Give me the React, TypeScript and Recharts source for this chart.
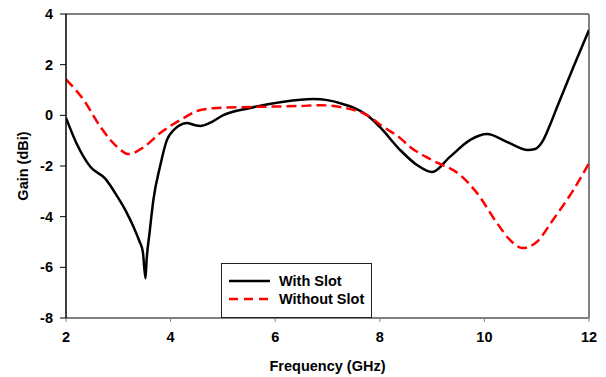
import React from "react"
import { LineChart, Line, XAxis, YAxis, ReferenceLine, Legend } from "recharts"

// With Slot
const withSlotFreq = [2, 2.2, 2.47, 2.75, 2.98, 3.15, 3.29, 3.4, 3.47, 3.52, 3.54, 3.6, 3.67, 3.8, 3.93, 4.05, 4.15, 4.31, 4.45, 4.57, 4.75, 5.0, 5.52, 6.16, 6.73, 7.0, 7.24, 7.5, 7.76, 8.0, 8.39, 8.71, 9.0, 9.34, 9.73, 10.05, 10.43, 10.83, 10.97, 11.12, 11.26, 11.39, 11.7, 12]
const withSlotGain = [-0.1, -1.1, -2.04, -2.5, -3.2, -3.8, -4.4, -4.95, -5.4, -6.43, -5.75, -4.6, -3.35, -2.0, -0.97, -0.6, -0.42, -0.3, -0.38, -0.42, -0.3, 0.0, 0.29, 0.54, 0.64, 0.6, 0.48, 0.3, 0.0, -0.46, -1.37, -1.96, -2.24, -1.64, -0.97, -0.74, -1.05, -1.37, -1.33, -1.0, -0.35, 0.33, 1.9, 3.37]

// Without Slot
const withoutSlotFreq = [2, 2.34, 2.66, 2.98, 3.2, 3.49, 3.8, 4.19, 4.57, 4.89, 5.52, 6.48, 6.86, 7.24, 7.76, 8.07, 8.39, 8.58, 9.0, 9.54, 9.86, 10.24, 10.49, 10.73, 11.0, 11.31, 11.7, 12]
const withoutSlotGain = [1.42, 0.6, -0.46, -1.25, -1.53, -1.25, -0.7, -0.18, 0.21, 0.29, 0.33, 0.37, 0.4, 0.33, 0.0, -0.46, -0.9, -1.25, -1.77, -2.36, -3.07, -4.25, -4.92, -5.24, -5.0, -4.13, -2.95, -1.89]

const xTicks = [2, 4, 6, 8, 10, 12]
const yTicks = [-8, -6, -4, -2, 0, 2, 4]

const withSlot = withSlotFreq.map((f, i) => ({ freq: f, gain: withSlotGain[i] }))
const withoutSlot = withoutSlotFreq.map((f, i) => ({ freq: f, gain: withoutSlotGain[i] }))

const font = "'Liberation Sans', Arial, sans-serif"
const tickStyle = { fontSize: 14.5, fontWeight: "bold", fill: "#000", fontFamily: font }

function LegendBox() {
  return (
    <div
      style={{
        width: 151,
        height: 55,
        border: "1px solid #222",
        background: "#fff",
        boxSizing: "border-box",
        fontFamily: font,
        fontWeight: "bold",
        fontSize: 14.5,
        color: "#000",
        position: "relative",
      }}
    >
      <svg width={50} height={40} style={{ position: "absolute", left: 7, top: 8 }}>
        <line x1={0} y1={9} x2={41} y2={9} stroke="#000" strokeWidth={2.5} />
        <line x1={0} y1={27} x2={41} y2={27} stroke="#ff0000" strokeWidth={2.5} strokeDasharray="9 6" />
      </svg>
      <div style={{ position: "absolute", left: 57, top: 8, lineHeight: "18px" }}>With Slot</div>
      <div style={{ position: "absolute", left: 57, top: 26, lineHeight: "18px" }}>Without Slot</div>
    </div>
  )
}

export default function App() {
  return (
    <div style={{ position: "absolute", left: 0, top: 0, width: 606, height: 377, background: "#fff" }}>
      <LineChart width={606} height={377} margin={{ top: 14, right: 17, left: 0, bottom: 0 }}>
        <XAxis
          dataKey="freq"
          type="number"
          domain={[2, 12]}
          ticks={xTicks}
          allowDataOverflow
          height={59}
          axisLine={{ stroke: "#808080", strokeWidth: 2 }}
          tickLine={{ stroke: "#808080" }}
          tickSize={4}
          tickMargin={10}
          tick={tickStyle}
          label={{
            content: ({ viewBox }: any) => (
              <text
                x={viewBox.x + viewBox.width / 2}
                y={viewBox.y + 48}
                textAnchor="middle"
                dominantBaseline="central"
                style={tickStyle}
              >
                Frequency (GHz)
              </text>
            ),
          }}
        />
        <YAxis
          type="number"
          domain={[-8, 4]}
          ticks={yTicks}
          allowDataOverflow
          width={66}
          axisLine={{ stroke: "#000", strokeWidth: 1.5 }}
          tickLine={{ stroke: "#000" }}
          tickSize={6}
          tickMargin={7}
          tick={tickStyle}
          label={{
            content: ({ viewBox }: any) => {
              const cx = viewBox.x + 23
              const cy = viewBox.y + viewBox.height / 2
              return (
                <text
                  x={cx}
                  y={cy}
                  textAnchor="middle"
                  dominantBaseline="central"
                  transform={`rotate(-90 ${cx} ${cy})`}
                  style={tickStyle}
                >
                  Gain (dBi)
                </text>
              )
            },
          }}
        />
        <ReferenceLine y={4} stroke="#808080" strokeWidth={2} />
        <ReferenceLine x={12} stroke="#808080" strokeWidth={2} />
        <Legend
          layout="vertical"
          align="center"
          verticalAlign="middle"
          content={() => <LegendBox />}
          wrapperStyle={{ left: 221, top: 263, width: 151, height: 55 }}
        />
        <Line
          data={withSlot}
          dataKey="gain"
          name="With Slot"
          type="monotone"
          stroke="#000"
          strokeWidth={2.5}
          dot={false}
          isAnimationActive={false}
        />
        <Line
          data={withoutSlot}
          dataKey="gain"
          name="Without Slot"
          type="monotone"
          stroke="#ff0000"
          strokeWidth={2.5}
          strokeDasharray="10 5"
          dot={false}
          isAnimationActive={false}
        />
      </LineChart>
    </div>
  )
}
